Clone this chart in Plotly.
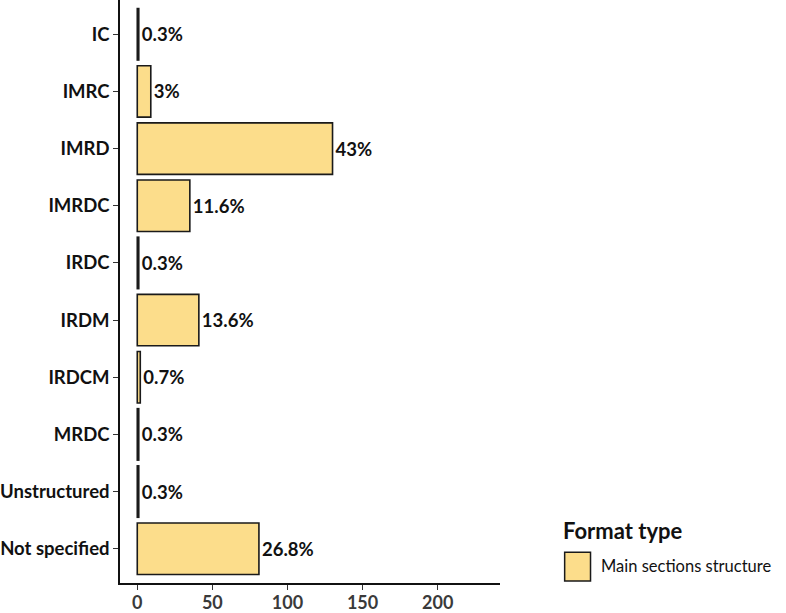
import plotly.graph_objects as go

categories = ["IC", "IMRC", "IMRD", "IMRDC", "IRDC", "IRDM", "IRDCM", "MRDC", "Unstructured", "Not specified"]
counts = [1, 9, 130, 35, 1, 41, 2, 1, 1, 81]
pct_labels = ["0.3%", "3%", "43%", "11.6%", "0.3%", "13.6%", "0.7%", "0.3%", "0.3%", "26.8%"]
x_ticks = [0, 50, 100, 150, 200]
legend_title = "Format type"
series_name = "Main sections structure"

FILL = "#FCDD8B"
EDGE = "#1a1a1a"
FONT = "Lato"

fig = go.Figure()
fig.add_trace(go.Bar(
    y=categories, x=counts, orientation="h", width=0.9,
    marker=dict(color=FILL, line=dict(color=EDGE, width=1.6)),
    text=pct_labels, textposition="outside", cliponaxis=False,
    textfont=dict(family=FONT, size=18.5, color="#111111", weight="bold"),
    name=series_name, showlegend=False, hoverinfo="skip",
))

fig.update_layout(
    width=786, height=613,
    margin=dict(l=118, r=286, t=0, b=25, pad=0),
    plot_bgcolor="white", paper_bgcolor="white",
    font=dict(family=FONT),
    xaxis=dict(range=[-11.5, 241.5], tickvals=x_ticks, showgrid=False, zeroline=False,
               showline=True, linecolor="#111111", linewidth=1.5,
               ticks="outside", ticklen=5, tickwidth=1.3, tickcolor="#333333",
               ticklabelstandoff=-2,
               tickfont=dict(family=FONT, size=18, color="#3a3a3a", weight="bold")),
    yaxis=dict(categoryorder="array", categoryarray=categories, range=[9.6, -0.6],
               showgrid=False, zeroline=False,
               showline=True, linecolor="#111111", linewidth=1.5,
               ticks="outside", ticklen=5, tickwidth=1.3, tickcolor="#333333",
               tickfont=dict(family=FONT, size=18.5, color="#111111", weight="bold")),
)

# legend drawn as decoration
fig.add_annotation(xref="paper", yref="paper", x=(561-118)/382, y=(588-535)/588,
                   text=legend_title, showarrow=False, xanchor="left", yanchor="middle",
                   font=dict(family=FONT, size=22, color="#111111", weight="bold"))
fig.add_shape(type="rect", xref="paper", yref="paper",
              x0=(565-118)/382, x1=(591-118)/382, y0=(588-586)/588, y1=(588-557)/588,
              fillcolor=FILL, line=dict(color=EDGE, width=1.5))
fig.add_annotation(xref="paper", yref="paper", x=(600-118)/382, y=(588-571)/588,
                   text=series_name, showarrow=False, xanchor="left", yanchor="middle",
                   font=dict(family=FONT, size=16.5, color="#111111"))

fig.write_html("out.html", config={"displayModeBar": False},
               post_script="document.body.style.margin='0';")
